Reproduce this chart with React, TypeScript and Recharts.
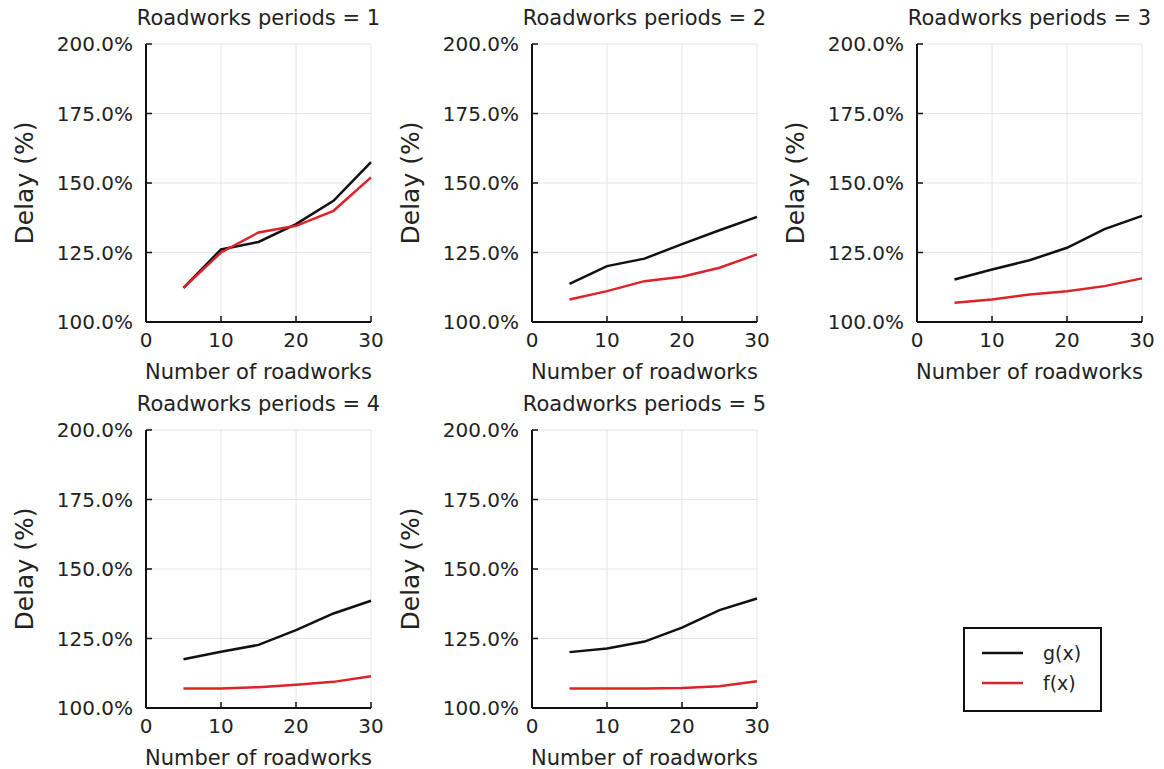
import * as React from "react"
import { CartesianGrid, Legend, Line, LineChart, XAxis, YAxis } from 'recharts'

const roadworks = [5, 10, 15, 20, 25, 30]
const periods = [1, 2, 3, 4, 5]

// delay in %
const gP1 = [112.3, 126.1, 128.8, 135.2, 143.6, 157.5]
const fP1 = [112.3, 125.0, 132.2, 134.6, 140.0, 152.0]
const gP2 = [113.7, 120.1, 122.8, 128.0, 133.0, 137.8]
const fP2 = [108.1, 111.1, 114.7, 116.3, 119.5, 124.3]
const gP3 = [115.3, 118.9, 122.2, 126.7, 133.4, 138.2]
const fP3 = [106.9, 108.1, 109.9, 111.1, 112.9, 115.7]
const gP4 = [117.5, 120.2, 122.7, 128.0, 134.0, 138.6]
const fP4 = [107.0, 107.0, 107.5, 108.4, 109.4, 111.4]
const gP5 = [120.1, 121.4, 123.9, 128.9, 135.2, 139.4]
const fP5 = [107.0, 107.0, 107.0, 107.2, 107.8, 109.6]

const gSeries = [gP1, gP2, gP3, gP4, gP5]
const fSeries = [fP1, fP2, fP3, fP4, fP5]
const legendOrder = ['g', 'f']

const xTicks = [0, 10, 20, 30]
const yTicks = [100, 125, 150, 175, 200]

const FONT = "'DejaVu Sans', sans-serif"
const TEXT = "#222"
const RED = "#dd2328"
const BLACK = "#111"

const plotLefts = [146, 532, 917]
const plotTops = [44, 430]
const PLOT_W = 225
const PLOT_H = 278
const AXIS_W = 146
const AXIS_H = 70

const YLabel = ({ viewBox }: any) => {
  const cx = viewBox.x + 24
  const cy = viewBox.y + viewBox.height / 2
  return (
    <text x={cx} y={cy} transform={`rotate(-90, ${cx}, ${cy})`} textAnchor="middle"
      dominantBaseline="central" fontSize={25} fill={TEXT} fontFamily={FONT}>
      Delay (%)
    </text>
  )
}

const XLabel = ({ viewBox }: any) => (
  <text x={viewBox.x + viewBox.width / 2} y={viewBox.y + 50} textAnchor="middle"
    dominantBaseline="central" fontSize={21} fill={TEXT} fontFamily={FONT}>
    Number of roadworks
  </text>
)

const LegendBox = ({ payload }: any) => {
  const items = [...(payload || [])].sort(
    (a: any, b: any) => legendOrder.indexOf(a.dataKey) - legendOrder.indexOf(b.dataKey))
  return (
    <svg width={135} height={81}>
      {items.map((p: any, i: number) => (
        <g key={p.value}>
          <line x1={17} x2={58} y1={24 + i * 30} y2={24 + i * 30} stroke={p.color} strokeWidth={2.5} />
          <text x={78} y={24 + i * 30} dominantBaseline="central" fontSize={19} fill={TEXT} fontFamily={FONT}>
            {p.value}
          </text>
        </g>
      ))}
    </svg>
  )
}

function Panel({ idx }: { idx: number }) {
  const col = idx % 3
  const row = Math.floor(idx / 3)
  const left = plotLefts[col] - AXIS_W
  const top = plotTops[row] - 44
  const data = roadworks.map((x, i) => ({ x, g: gSeries[idx][i], f: fSeries[idx][i] }))

  return (
    <div style={{ position: 'absolute', left, top, width: AXIS_W + PLOT_W + 30, height: 44 + PLOT_H + AXIS_H }}>
      <div style={{
        position: 'absolute', left: AXIS_W - 40, width: PLOT_W + 80, top: 6, height: 24, lineHeight: '24px',
        textAlign: 'center', fontFamily: FONT, fontSize: 21, color: TEXT, whiteSpace: 'nowrap',
      }}>
        Roadworks periods = {periods[idx]}
      </div>
      <LineChart width={AXIS_W + PLOT_W + 30} height={44 + PLOT_H + AXIS_H} data={data}
        margin={{ top: 44, right: 30, bottom: 0, left: 0 }}>
        <CartesianGrid stroke="#e4e4e4" strokeWidth={1} />
        <XAxis dataKey="x" type="number" domain={[0, 30]} ticks={xTicks} height={AXIS_H}
          axisLine={{ stroke: BLACK, strokeWidth: 2 }} tickLine={{ stroke: BLACK, strokeWidth: 1.5 }}
          tickSize={-6} tickMargin={17}
          tick={{ fontSize: 20, fill: TEXT, fontFamily: FONT }} label={<XLabel />} />
        <YAxis type="number" domain={[100, 200]} ticks={yTicks} width={AXIS_W}
          axisLine={{ stroke: BLACK, strokeWidth: 2 }} tickLine={{ stroke: BLACK, strokeWidth: 1.5 }}
          tickSize={-6} tickMargin={19}
          tickFormatter={(v) => `${Number(v).toFixed(1)}%`}
          tick={{ fontSize: 20, fill: TEXT, fontFamily: FONT }} label={<YLabel />} />
        <Line type="linear" dataKey="g" name="g(x)" stroke={BLACK} strokeWidth={2.5} dot={false} isAnimationActive={false} />
        <Line type="linear" dataKey="f" name="f(x)" stroke={RED} strokeWidth={2.5} dot={false} isAnimationActive={false} />
        {idx === 4 && (
          <Legend layout="vertical" align="center" verticalAlign="middle" content={<LegendBox />}
            wrapperStyle={{
              left: 963 - left, top: 627 - top, width: 139, height: 85,
              border: '2px solid #111', boxSizing: 'border-box', background: '#fff',
            }} />
        )}
      </LineChart>
    </div>
  )
}

export default function App() {
  return (
    <div style={{ position: 'absolute', left: 0, top: 0, width: 1164, height: 769, background: '#fff', overflow: 'hidden' }}>
      {periods.map((p, i) => <Panel key={p} idx={i} />)}
    </div>
  )
}
